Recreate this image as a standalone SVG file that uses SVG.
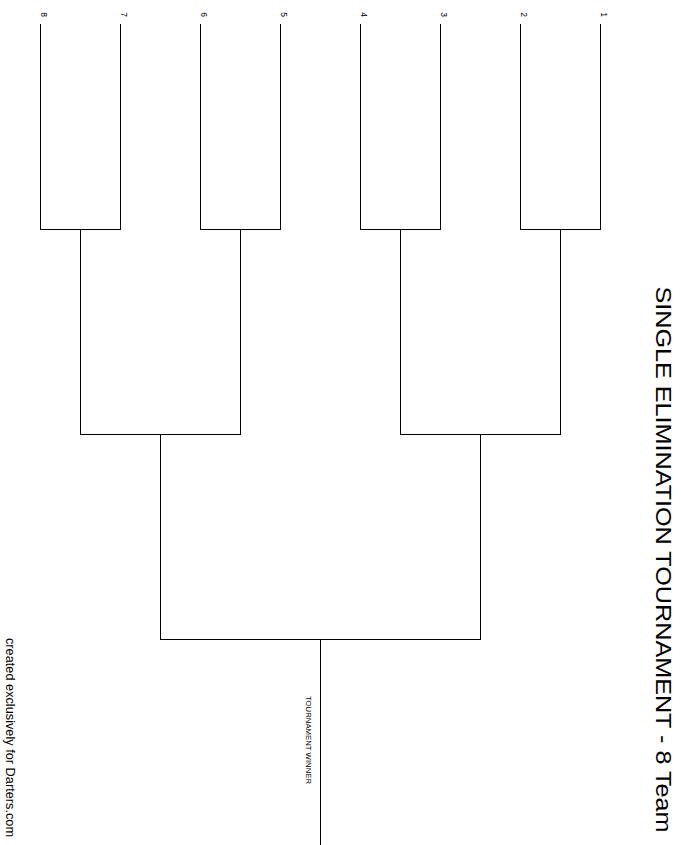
<svg xmlns="http://www.w3.org/2000/svg" width="681" height="845" viewBox="0 0 681 845">
<style>
.ln{stroke:#000;stroke-width:1;fill:none;shape-rendering:crispEdges}
.num{font-family:"Liberation Sans",Arial,sans-serif;font-size:8.5px;fill:#000}
.title{font-family:"Liberation Sans",Arial,sans-serif;font-size:22px;fill:#000}
.win{font-family:"Liberation Sans",Arial,sans-serif;font-size:7.5px;fill:#000}
.foot{font-family:"Liberation Sans",Arial,sans-serif;font-size:12.5px;fill:#000}
</style>
<rect width="681" height="845" fill="#fff"/>
<g id="title"><text class="title" transform="translate(656,286.5) rotate(90)" textLength="546" lengthAdjust="spacingAndGlyphs">SINGLE ELIMINATION TOURNAMENT - 8 Team</text></g>
<g id="footer"><text class="foot" transform="translate(6,638) rotate(90)" textLength="199" lengthAdjust="spacingAndGlyphs">created exclusively for Darters.com</text></g>
<g id="team-8"><text class="num" transform="translate(41,12.3) rotate(90)">8</text><line class="ln" x1="40.5" y1="24" x2="40.5" y2="229.5"/></g>
<g id="team-7"><text class="num" transform="translate(121,12.3) rotate(90)">7</text><line class="ln" x1="120.5" y1="24" x2="120.5" y2="229.5"/></g>
<g id="team-6"><text class="num" transform="translate(201,12.3) rotate(90)">6</text><line class="ln" x1="200.5" y1="24" x2="200.5" y2="229.5"/></g>
<g id="team-5"><text class="num" transform="translate(281,12.3) rotate(90)">5</text><line class="ln" x1="280.5" y1="24" x2="280.5" y2="229.5"/></g>
<g id="team-4"><text class="num" transform="translate(361,12.3) rotate(90)">4</text><line class="ln" x1="360.5" y1="24" x2="360.5" y2="229.5"/></g>
<g id="team-3"><text class="num" transform="translate(441,12.3) rotate(90)">3</text><line class="ln" x1="440.5" y1="24" x2="440.5" y2="229.5"/></g>
<g id="team-2"><text class="num" transform="translate(521,12.3) rotate(90)">2</text><line class="ln" x1="520.5" y1="24" x2="520.5" y2="229.5"/></g>
<g id="team-1"><text class="num" transform="translate(601,12.3) rotate(90)">1</text><line class="ln" x1="600.5" y1="24" x2="600.5" y2="229.5"/></g>
<g id="connectors">
<line class="ln" x1="40.5" y1="229.5" x2="120.5" y2="229.5"/>
<line class="ln" x1="200.5" y1="229.5" x2="280.5" y2="229.5"/>
<line class="ln" x1="360.5" y1="229.5" x2="440.5" y2="229.5"/>
<line class="ln" x1="520.5" y1="229.5" x2="600.5" y2="229.5"/>
<line class="ln" x1="80.5" y1="229.5" x2="80.5" y2="434.5"/>
<line class="ln" x1="240.5" y1="229.5" x2="240.5" y2="434.5"/>
<line class="ln" x1="400.5" y1="229.5" x2="400.5" y2="434.5"/>
<line class="ln" x1="560.5" y1="229.5" x2="560.5" y2="434.5"/>
<line class="ln" x1="80.5" y1="434.5" x2="240.5" y2="434.5"/>
<line class="ln" x1="400.5" y1="434.5" x2="560.5" y2="434.5"/>
<line class="ln" x1="160.5" y1="434.5" x2="160.5" y2="639.5"/>
<line class="ln" x1="480.5" y1="434.5" x2="480.5" y2="639.5"/>
<line class="ln" x1="160.5" y1="639.5" x2="480.5" y2="639.5"/>
</g>
<g id="winner"><line class="ln" x1="320.5" y1="639.5" x2="320.5" y2="845"/><text class="win" transform="translate(306,696) rotate(90)" textLength="88" lengthAdjust="spacingAndGlyphs">TOURNAMENT WINNER</text></g>
</svg>
